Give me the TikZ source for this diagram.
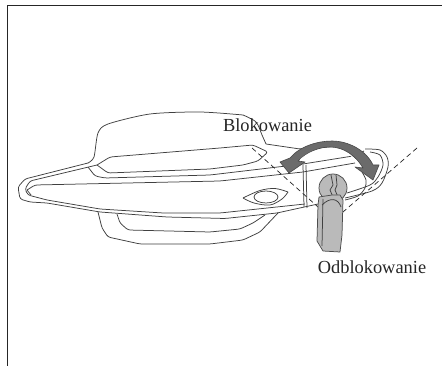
\documentclass[tikz,border=0pt]{standalone}
\usepackage{fontspec}
\setmainfont{Liberation Serif}
\tikzset{
  x=1pt,y=-1pt,
  lineart/.style={draw=black!75,line width=0.75pt,line join=round,rounded corners=2.5pt},
  soft/.style={draw=black!75,line width=0.75pt,line join=round},
  dashline/.style={draw=black!85,line width=0.7pt,dash pattern=on 5pt off 3.5pt},
  keybody/.style={draw=black!70,fill=black!27,line width=0.75pt,line join=round},
  arrowshape/.style={draw=black!72,fill=black!58,line width=0.6pt,line join=round},
  lbl/.style={inner sep=0pt,anchor=center,text=black!85}
}
\begin{document}
\begin{tikzpicture}
\useasboundingbox (0,0) rectangle (442,366);
\fill[white] (0,0) rectangle (442,366);
% frame
\draw[black!85,line width=1.5pt] (7.5,366) -- (7.5,5.5) -- (442,5.5);
% upper body of handle recess outline
\draw[soft] plot[smooth,tension=0.45] coordinates {(88,163) (94,157) (98,133) (108,124) (150,114) (200,112) (243,115)};
\draw[soft] plot[smooth,tension=0.5] coordinates {(243,115) (256,122) (262,135) (266,144)};
\draw[lineart] (266,144) -- (300,149) -- (318,148);
\draw[lineart] (88,163) -- (25,179) -- (18,187) -- (20,199) -- (30,202) -- (47,203) -- (100,212) -- (167,217) -- (225,218.5) -- (277,213) -- (318,204);
\draw[lineart] (97,165) -- (30,181) -- (25,189) -- (28,195) -- (47,200) -- (100,209) -- (163,213) -- (220,213) -- (305,204);
\draw[lineart] (27,190) -- (35,185) -- (220,181) -- (303,172);
\draw[lineart] (27,190) -- (31,195);
% top recess
\draw[lineart] (97,165) -- (110,157) -- (220,148) -- (253,145) -- (268,152) -- (258,161) -- (243,165) -- (210,169) -- (108,173) -- (97,165);
\draw[lineart] (88,167) -- (95,176) -- (105,178) -- (210,175) -- (303,164);
% right end
\draw[lineart] (303,164) -- (353,156) -- (364,151);
\draw[lineart] (303,172) -- (355,163);
\draw[lineart] (318,148) -- (338,146);
\draw[soft] plot[smooth,tension=0.5] coordinates {(365,149) (380,150) (387,157) (388,167) (382,183) (372,191) (345,198)};
\draw[soft] plot[smooth,tension=0.5] coordinates {(370,152) (380,155) (383,165) (378,177) (370,185) (347,193)};
\draw[soft] plot[smooth,tension=0.5] coordinates {(362,172) (366,180) (365,188) (358,196) (345,200)};
% lower recesses
\draw[lineart] (98,212) -- (102,228) -- (108,237) -- (140,244) -- (210,244) -- (243,240) -- (260,232) -- (278,213);
\draw[lineart] (117,214) -- (120,223) -- (128,230) -- (210,232) -- (240,229) -- (253,223) -- (265,215);
% eye and key hole
\draw[soft] plot[smooth,tension=0.55] coordinates {(243,198) (260,190.5) (275,188.5) (288,192)};
\draw[soft] plot[smooth,tension=0.55] coordinates {(243,198) (254,203) (270,205) (282,199) (288,192)};
\draw[soft] (266,197) ellipse [x radius=12,y radius=6];
% blade split
\draw[soft] (303,165) -- (304,207);
\draw[soft] (306,165) -- (307,208);
% dashed lines
\draw[dashline] (252,148) -- (318,207);
\draw[dashline] (417,148) -- (343,212);
% key
\draw[keybody] (333,188) circle [radius=14];
\draw[soft] (331,175) -- (333,185) -- (330,190) -- (333,197);
\draw[soft] (336,175) -- (337,185) -- (335,190) -- (338,197);
\draw[keybody] (319,197) -- (332,195) -- (340,195) -- (343,200) -- (342,235) -- (340,252) -- (323,251) -- (317,241) -- (318,205) -- cycle;
\draw[soft] (323,199) -- (322,246);
\draw[soft] (322,205) .. controls (330,197) and (338,198) .. (341,207);
% arrow
\draw[arrowshape] (280,162) -- (290,158)
  .. controls (300,146) and (318,141) .. (332,141)
  .. controls (348,141) and (366,150) .. (373,165)
  -- (379,165) -- (373,180) -- (355,167) -- (363,168)
  .. controls (356,156) and (344,147) .. (330,147)
  .. controls (318,147) and (306,153) .. (298,161)
  -- (305,162) -- (289,173) -- cycle;
\draw[white,line width=0.7pt] (300,160) .. controls (307,153) and (318,148.5) .. (330,148.5) .. controls (343,148.5) and (354,156) .. (361,167);
% labels
\node[lbl,font=\fontsize{18.4}{20}\selectfont] (lock) at (267.5,125) {Blokowanie};
\node[lbl,font=\fontsize{18.4}{20}\selectfont] (unlock) at (372,267) {Odblokowanie};
\end{tikzpicture}
\end{document}
